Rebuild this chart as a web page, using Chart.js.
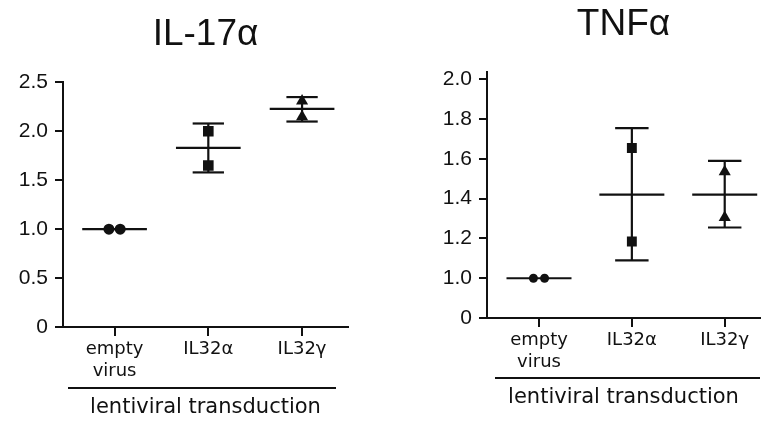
<!DOCTYPE html>
<html>
<head>
<meta charset="utf-8">
<script src="https://cdn.jsdelivr.net/npm/chart.js@4"></script>
<style>
  html, body { margin: 0; padding: 0; background: #fff; }
  #wrap { position: relative; width: 767px; height: 421px; }
  .box { position: absolute; top: 0; height: 421px; }
</style>
</head>
<body>
<div id="wrap">
  <div class="box" style="left:0;width:383px"><canvas id="il17"></canvas></div>
  <div class="box" style="left:383px;width:384px"><canvas id="tnf"></canvas></div>
</div>
<script>
// groups on the x axis
const categories = [['empty', 'virus'], 'IL32α', 'IL32γ'];
const axisTitle = 'lentiviral transduction';

// IL-17α : two values per group, mean and range
const il17Values = [[1.0, 1.0], [2.0, 1.65], [2.31, 2.15]];
const il17Mean = [1.0, 1.83, 2.23];
const il17Low = [1.0, 1.58, 2.10];
const il17High = [1.0, 2.08, 2.35];
const il17Ticks = [0, 0.5, 1.0, 1.5, 2.0, 2.5];
const il17TickLabels = ['0', '0.5', '1.0', '1.5', '2.0', '2.5'];

// TNFα : axis is broken, bottom tick is labelled 0
const tnfValues = [[1.0, 1.0], [1.655, 1.185], [1.535, 1.305]];
const tnfMean = [1.0, 1.42, 1.42];
const tnfLow = [1.0, 1.09, 1.255];
const tnfHigh = [1.0, 1.755, 1.59];
const tnfTicks = [0.8, 1.0, 1.2, 1.4, 1.6, 1.8, 2.0];
const tnfTickLabels = ['0', '1.0', '1.2', '1.4', '1.6', '1.8', '2.0'];

const INK = '#111';
const markers = ['circle', 'rect', 'triangle'];
const dotShift = [-0.06, 0.06]; // the two circles sit side by side

// mean line + range bar, drawn through the scales
const summaryPlugin = {
  id: 'summary',
  beforeDatasetsDraw(chart, args, o) {
    const ctx = chart.ctx, xs = chart.scales.x, ys = chart.scales.y;
    const seg = (xa, va, xb, vb) => {
      ctx.beginPath();
      ctx.moveTo(xs.getPixelForValue(xa), ys.getPixelForValue(va));
      ctx.lineTo(xs.getPixelForValue(xb), ys.getPixelForValue(vb));
      ctx.stroke();
    };
    ctx.save();
    ctx.strokeStyle = INK;
    ctx.lineWidth = 2.2;
    o.mean.forEach((m, i) => {
      seg(i - o.meanHalf, m, i + o.meanHalf, m);
      if (o.high[i] > o.low[i]) {
        seg(i, o.low[i], i, o.high[i]);
        seg(i - o.capHalf, o.low[i], i + o.capHalf, o.low[i]);
        seg(i - o.capHalf, o.high[i], i + o.capHalf, o.high[i]);
      }
    });
    ctx.restore();
  },
  afterDraw(chart, args, o) {
    // line over "lentiviral transduction"
    const ctx = chart.ctx, xs = chart.scales.x;
    const y = xs.bottom - o.titlePad - 25 - o.gap;
    ctx.save();
    ctx.strokeStyle = INK;
    ctx.lineWidth = 2;
    ctx.beginPath();
    ctx.moveTo(chart.chartArea.left + o.lineL, y);
    ctx.lineTo(chart.chartArea.right - o.lineR, y);
    ctx.stroke();
    ctx.restore();
  }
};

function makeChart(id, cfg) {
  const datasets = cfg.values.map((vals, i) => ({
    data: vals.map((v, k) => ({ x: i + (i === 0 ? dotShift[k] : 0), y: v })),
    pointStyle: markers[i],
    pointRadius: cfg.radius[i],
    pointBackgroundColor: INK,
    pointBorderColor: INK,
    pointBorderWidth: 0,
    showLine: false
  }));

  return new Chart(document.getElementById(id), {
    type: 'scatter',
    data: { datasets },
    plugins: [summaryPlugin],
    options: {
      responsive: true,
      maintainAspectRatio: false,
      animation: false,
      layout: { padding: { left: 0, right: cfg.padRight, top: 0, bottom: 0 } },
      plugins: {
        legend: { display: false },
        tooltip: { enabled: false },
        title: {
          display: true,
          text: cfg.title,
          fullSize: false,
          color: INK,
          font: { family: 'Liberation Sans, Arial, sans-serif', size: 37, weight: 'normal', lineHeight: 1.2 },
          padding: cfg.titlePad
        },
        summary: {
          mean: cfg.mean, low: cfg.low, high: cfg.high,
          meanHalf: cfg.meanHalf, capHalf: cfg.capHalf,
          titlePad: cfg.xTitlePad, gap: 7, lineL: cfg.lineL, lineR: cfg.lineR
        }
      },
      scales: {
        x: {
          type: 'linear',
          min: cfg.xMin,
          max: cfg.xMax,
          afterBuildTicks: s => { s.ticks = categories.map((c, i) => ({ value: i })); },
          afterFit: s => { s.height = cfg.xHeight; },
          ticks: {
            callback: (v, i) => categories[i],
            color: INK,
            padding: 3,
            maxRotation: 0,
            font: { family: 'DejaVu Sans, sans-serif', size: 18, lineHeight: 1.2 }
          },
          grid: { drawOnChartArea: false, tickLength: 9, color: INK, lineWidth: 2 },
          border: { display: true, color: INK, width: 2 },
          title: {
            display: true,
            text: axisTitle,
            color: INK,
            font: { family: 'DejaVu Sans, sans-serif', size: 21, lineHeight: 1.2 },
            padding: { top: 0, bottom: cfg.xTitlePad }
          }
        },
        y: {
          type: 'linear',
          min: cfg.yMin,
          max: cfg.yMax,
          afterBuildTicks: s => { s.ticks = cfg.ticks.map(v => ({ value: v })); },
          afterFit: s => { s.width = cfg.yWidth; },
          ticks: {
            callback: (v, i) => cfg.tickLabels[i],
            color: INK,
            padding: 7,
            font: { family: 'Liberation Sans, Arial, sans-serif', size: 21 }
          },
          grid: { drawOnChartArea: false, tickLength: 8, color: INK, lineWidth: 2 },
          border: { display: true, color: INK, width: 2 }
        }
      }
    }
  });
}

makeChart('il17', {
  title: 'IL-17α',
  values: il17Values, mean: il17Mean, low: il17Low, high: il17High,
  ticks: il17Ticks, tickLabels: il17TickLabels,
  yMin: 0, yMax: 2.5, xMin: -0.55, xMax: 2.49,
  radius: [5.5, 7.5, 7],
  meanHalf: 0.345, capHalf: 0.167,
  titlePad: { top: 13, bottom: 25 },
  yWidth: 63, xHeight: 94, padRight: 35,
  xTitlePad: 1, lineL: 5, lineR: 12
});

makeChart('tnf', {
  title: 'TNFα',
  values: tnfValues, mean: tnfMean, low: tnfLow, high: tnfHigh,
  ticks: tnfTicks, tickLabels: tnfTickLabels,
  yMin: 0.8, yMax: 2.035, xMin: -0.56, xMax: 2.38,
  radius: [4.5, 7, 7],
  meanHalf: 0.35, capHalf: 0.18,
  titlePad: { top: 3, bottom: 25 },
  yWidth: 104, xHeight: 103, padRight: 4,
  xTitlePad: 11, lineL: 8, lineR: 0
});
</script>
</body>
</html>
